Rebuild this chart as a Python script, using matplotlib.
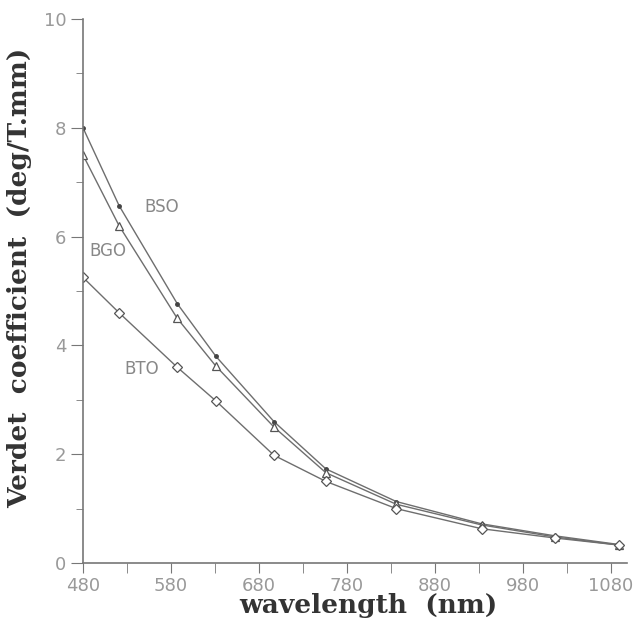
import matplotlib
matplotlib.use("Agg")
import matplotlib.pyplot as plt
from matplotlib.ticker import FixedLocator

wavelength = [480, 521, 587, 631, 697, 756, 836, 933, 1016, 1089]
bso = [8.0, 6.57, 4.77, 3.8, 2.6, 1.73, 1.13, 0.72, 0.5, 0.34]
bgo = [7.5, 6.2, 4.5, 3.62, 2.5, 1.66, 1.08, 0.7, 0.48, 0.33]
bto = [5.25, 4.6, 3.6, 2.98, 1.98, 1.5, 1.0, 0.63, 0.46, 0.33]
labels = ["BSO", "BGO", "BTO"]
label_pos = [(569, 6.55), (508, 5.74), (547, 3.56)]
xticks = [480, 580, 680, 780, 880, 980, 1080]
xminor = [530, 630, 730, 830, 930, 1030]
yticks = [0, 2, 4, 6, 8, 10]
yminor = [1, 3, 5, 7, 9]

fig = plt.figure(figsize=(6.36, 6.21), dpi=100)
ax = fig.add_axes([0.1305, 0.0934, 0.855, 0.876])

lc = "#6e6e6e"
ax.plot(wavelength, bso, color=lc, lw=1.0, marker=".", ms=5, mfc="#444", mec="#444")
ax.plot(wavelength, bgo, color=lc, lw=1.0, marker="^", ms=6, mfc="white", mec="#555", mew=0.9)
ax.plot(wavelength, bto, color=lc, lw=1.0, marker="D", ms=5, mfc="white", mec="#555", mew=0.9)

for lab, (x, y) in zip(labels, label_pos):
    ax.text(x, y, lab, color="#888", fontsize=12, ha="center", va="center", family="DejaVu Sans")

ax.set_xlim(480, 1098)
ax.set_ylim(0, 10)
ax.xaxis.set_major_locator(FixedLocator(xticks))
ax.xaxis.set_minor_locator(FixedLocator(xminor))
ax.yaxis.set_major_locator(FixedLocator(yticks))
ax.yaxis.set_minor_locator(FixedLocator(yminor))

for s in ["top", "right"]:
    ax.spines[s].set_visible(False)
for s in ["left", "bottom"]:
    ax.spines[s].set_color("#777")
    ax.spines[s].set_linewidth(1.2)

ax.tick_params(which="both", direction="out", colors="#777", labelcolor="#999", labelsize=13)
ax.tick_params(axis="y", which="major", length=9, pad=3)
ax.tick_params(axis="y", which="minor", length=5)
ax.tick_params(axis="x", which="both", length=7, pad=3)

ax.set_xlabel("wavelength  (nm)", fontsize=19, fontweight="bold", family="DejaVu Serif",
              color="#333", va="center", ha="center")
ax.xaxis.set_label_coords(368 / 636, 1 - 606 / 621, transform=fig.transFigure)
ax.set_ylabel("Verdet  coefficient  (deg/T.mm)", fontsize=19, fontweight="bold", family="DejaVu Serif",
              color="#333", va="center", ha="center")
ax.yaxis.set_label_coords(20 / 636, 1 - 278 / 621, transform=fig.transFigure)

fig.savefig("out.png", dpi=100)
